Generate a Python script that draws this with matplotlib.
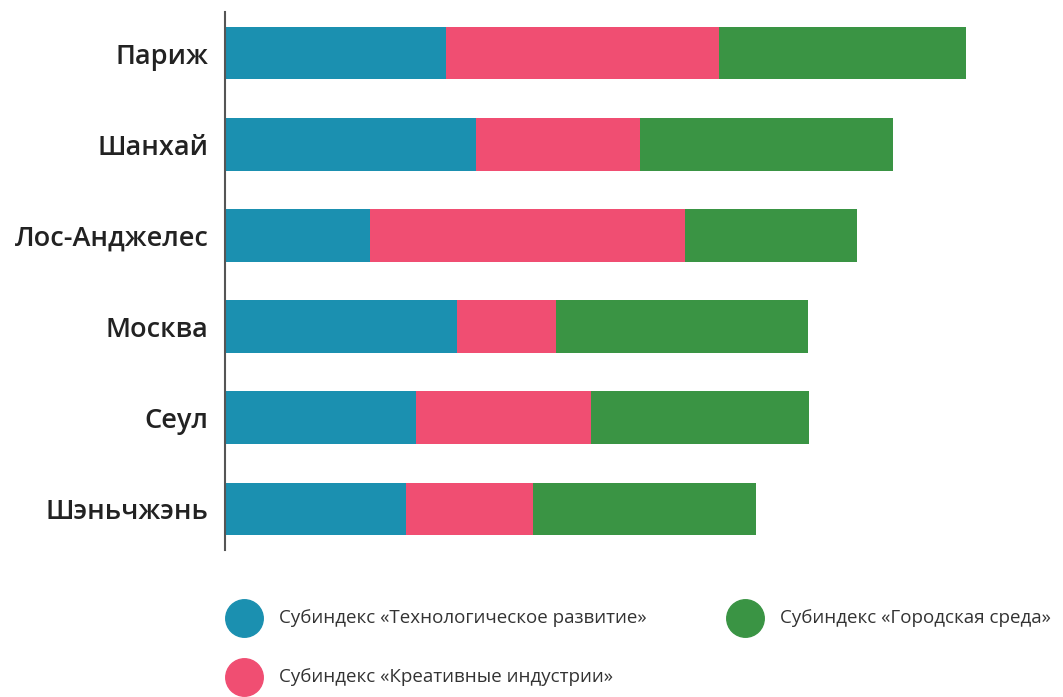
import matplotlib.pyplot as plt
from matplotlib.lines import Line2D

plt.rcParams['font.family'] = ['Open Sans', 'DejaVu Sans']

cities = ['Париж', 'Шанхай', 'Лос-Анджелес', 'Москва', 'Сеул', 'Шэньчжэнь']
tech = [22.1, 25.1, 14.5, 23.2, 19.1, 18.1]
creative = [27.3, 16.4, 31.5, 9.9, 17.5, 12.7]
urban = [24.7, 25.3, 17.2, 25.2, 21.8, 22.3]

labels = ['Субиндекс «Технологическое развитие»',
          'Субиндекс «Креативные индустрии»',
          'Субиндекс «Городская среда»']
colors = ['#1b90b0', '#f04e72', '#3a9444']

fig = plt.figure(figsize=(10.63, 6.97), dpi=100)
ax = fig.add_axes([225 / 1063, 1 - 550 / 697, 838 / 1063, 538 / 697])

y = list(range(len(cities)))
left = [0] * len(cities)
for vals, c in zip([tech, creative, urban], colors):
    ax.barh(y, vals, left=left, height=0.58, color=c)
    left = [l + v for l, v in zip(left, vals)]

ax.set_xlim(0, 83.8)
ax.set_ylim(5.45, -0.45)
ax.set_yticks(y)
ax.set_yticklabels(cities, fontsize=19.5, fontweight='semibold', color='#222222')
ax.tick_params(axis='y', length=0, pad=12)
ax.set_xticks([])
for s in ['top', 'right', 'bottom']:
    ax.spines[s].set_visible(False)
ax.spines['left'].set_color('#555555')
ax.spines['left'].set_linewidth(1.5)

# legend, placed by hand
spots = [(244, 618), (244, 677), (745, 618)]
for (px, py), lab, c in zip(spots, labels, colors):
    fx, fy = px / 1063, 1 - py / 697
    fig.add_artist(Line2D([fx], [fy], marker='o', markersize=27,
                          color=c, linestyle='none', transform=fig.transFigure))
    fig.text(fx + 35 / 1063, fy, lab, fontsize=13.5, color='#333333',
             va='center', ha='left')

fig.savefig('out.png', dpi=100)
